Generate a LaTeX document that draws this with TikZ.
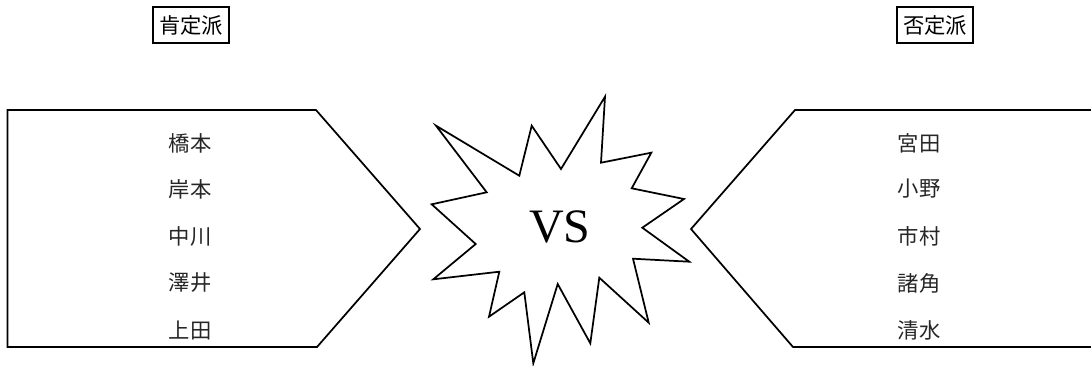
\documentclass[tikz,border=0pt]{standalone}
\usepackage{fontspec}
\newfontfamily\jpfont{Noto Sans CJK JP}
\newfontfamily\vsfont{Liberation Serif}
\begin{document}
\begin{tikzpicture}[x=0.75pt,y=-0.75pt,
  outline/.style={draw=black,line width=1.3pt,line join=miter},
  header/.style={draw=black,line width=1.6pt,inner sep=1.5pt,font=\jpfont\fontsize{16pt}{18pt}\selectfont,minimum width=76*0.75pt,minimum height=36*0.75pt},
  member/.style={inner sep=0pt,text=black!85,font=\jpfont\fontsize{16pt}{18pt}\selectfont}]
\useasboundingbox (0,0) rectangle (1091,365);
% headers
\node[header] (pro) at (191,25) {肯定派};
\node[header] (con) at (935,25) {否定派};
% left pentagon
\draw[outline] (7.5,110) -- (316,110) -- (420,229) -- (317,347) -- (7.5,347) -- cycle;
% right pentagon (open to the right edge)
\draw[outline] (1096,110) -- (795,110) -- (691,229) -- (793,347) -- (1096,347);
% starburst
\draw[outline] (605,96.7) -- (601,162.7) -- (651.3,152.7) -- (631.7,188.3) -- (684,199)
  -- (642.3,227.7) -- (689.3,261.7) -- (633,258.7) -- (648.7,322.7) -- (599.3,277.7)
  -- (590.3,343.3) -- (557.7,284) -- (533.3,363.3) -- (524.3,292.3) -- (489,316.7)
  -- (499.3,271.7) -- (433.3,279.3) -- (475.7,244) -- (431.7,204.3) -- (486.7,192.3)
  -- (436,125.7) -- (519.3,175.7) -- (531.7,125.7) -- (561,169) -- cycle;
\node[inner sep=0pt,font=\vsfont\fontsize{36pt}{40pt}\selectfont] (vs) at (560,227) {VS};
% members
\node[member] (l1) at (190,143) {橋本};
\node[member] (l2) at (190,189) {岸本};
\node[member] (l3) at (190,236) {中川};
\node[member] (l4) at (190,283) {澤井};
\node[member] (l5) at (190,330) {上田};
\node[member] (r1) at (919,143) {宮田};
\node[member] (r2) at (919,189) {小野};
\node[member] (r3) at (919,236) {市村};
\node[member] (r4) at (919,283) {諸角};
\node[member] (r5) at (919,330) {清水};
\end{tikzpicture}
\end{document}
